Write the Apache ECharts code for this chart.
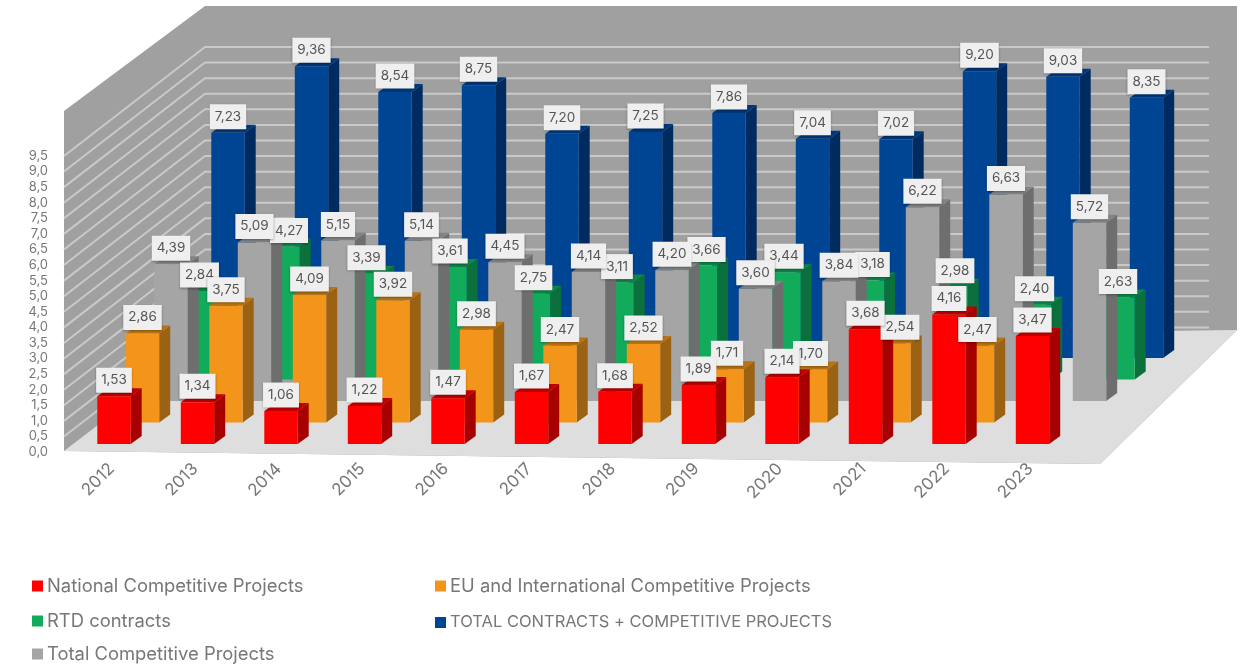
<!DOCTYPE html>
<html>
<head>
<meta charset="utf-8">
<style>html,body{margin:0;padding:0;background:#fff}#chart{width:1243px;height:666px}</style>
<script src="https://cdn.jsdelivr.net/npm/echarts@6/dist/echarts.min.js"></script>
</head>
<body>
<div id="chart"></div>
<script>
// Research funding per year, drawn as a pseudo-3D column chart.
const years = ['2012','2013','2014','2015','2016','2017','2018','2019','2020','2021','2022','2023'];
const nationalProjects = [1.53,1.34,1.06,1.22,1.47,1.67,1.68,1.89,2.14,3.68,4.16,3.47];
const euProjects = [2.86,3.75,4.09,3.92,2.98,2.47,2.52,1.71,1.70,2.54,2.47,null];
const totalCompetitive = [4.39,5.09,5.15,5.14,4.45,4.14,4.20,3.60,3.84,6.22,6.63,5.72];
const rtdContracts = [2.84,4.27,3.39,3.61,2.75,3.11,3.66,3.44,3.18,2.98,2.40,2.63];
const totalAll = [7.23,9.36,8.54,8.75,7.20,7.25,7.86,7.04,7.02,9.20,9.03,8.35];
const yTicks = [0,0.5,1,1.5,2,2.5,3,3.5,4,4.5,5,5.5,6,6.5,7,7.5,8,8.5,9,9.5];

// Rows from the front of the room to the back wall.
const rows = [
  {name:'National Competitive Projects', data:nationalProjects, front:'#fe0000', side:'#a60000', top:'#c00000'},
  {name:'EU and International Competitive Projects', data:euProjects, front:'#f3941b', side:'#9a6212', top:'#b87414'},
  {name:'Total Competitive Projects', data:totalCompetitive, front:'#a5a5a5', side:'#6e6e6e', top:'#838383'},
  {name:'RTD contracts', data:rtdContracts, front:'#12ab5b', side:'#0b703c', top:'#0d8648'},
  {name:'TOTAL CONTRACTS + COMPETITIVE PROJECTS', data:totalAll, front:'#004494', side:'#002b60', top:'#00377a'}
];

const STEP_X = 28.5, STEP_Y = 21.5;      // shift between neighbouring rows
const SIDE_X = 11, SIDE_Y = 8;           // depth of a single column
const PLOT_H = 296, BAND = 83.5;
const WALL = '#a0a0a0', FLOOR = '#dedede', RULE = '#c9c9c9';

// Sideways pushes that keep crowded value labels from covering each other ("row:year").
const labelPush = {'3:1':6, '3:6':6, '3:8':5, '3:9':4, '1:9':6};

const grids = [], xAxes = [], yAxes = [], series = [];

// Grid 0 carries the visible axes and the room itself.
grids.push({left:70, top:156, width:BAND*12, height:PLOT_H});
xAxes.push({type:'category', gridIndex:0, data:years, z:5,
  axisLine:{show:false}, axisTick:{show:false}, splitLine:{show:false},
  axisLabel:{rotate:45, margin:14, color:'#777', fontSize:17, fontFamily:'Inter', interval:0}});
yAxes.push({type:'value', gridIndex:0, min:0, max:9.5, interval:0.5,
  axisLine:{show:false}, axisTick:{show:false}, splitLine:{show:false},
  axisLabel:{margin:22, color:'#777', fontSize:13, fontFamily:'Inter',
    formatter:v => v.toFixed(1).replace('.', ',')}});

rows.forEach((r, i) => {
  grids.push({left:72.25 + STEP_X*i, top:444 - STEP_Y*i - PLOT_H, width:BAND*12, height:PLOT_H});
  xAxes.push({type:'category', gridIndex:i+1, data:years, show:false});
  yAxes.push({type:'value', gridIndex:i+1, min:0, max:9.5, interval:0.5, show:false});
});

// Walls, floor and slanted rules.
series.push({
  type:'custom', name:'room', xAxisIndex:0, yAxisIndex:0, silent:true, clip:false,
  data:[0].concat(yTicks.map((t, i) => i + 1)),
  encode:{x:[], y:[]},
  renderItem(params, api) {
    const i = api.value(0);
    const poly = (points, fill, z2) => ({type:'polygon', shape:{points}, style:{fill}, z2});
    if (i === 0) {
      return {type:'group', children:[
        poly([[64,111],[205,6],[1237,6],[1237,330],[1100,464],[64,451]], WALL, -30),
        poly([[64,451],[205,343],[1237,330],[1100,464]], FLOOR, -29),
        poly([[170,343],[1006,343],[1006,400],[170,400]], WALL, -28),
        poly([[1006,343],[1160,343],[1160,357],[1006,357]], WALL, -28)
      ]};
    }
    const y = api.coord([0, yTicks[i-1]])[1];
    if (yTicks[i-1] === 0) return null;
    const dx = 141, dy = 109;
    return {type:'polyline', z2:-27,
      shape:{points:[[64,y],[64+dx,y-dy],[1209,y-dy]]},
      style:{fill:null, stroke:RULE, lineWidth:2}};
  }
});

// Column rows: each one has its own shifted grid, so depth comes from the axes.
rows.forEach((r, d) => {
  series.push({
    type:'custom', name:r.name, xAxisIndex:d+1, yAxisIndex:d+1, clip:false,
    itemStyle:{color:r.front},
    encode:{x:0, y:1},
    data:r.data.map((v, k) => [k, v]),
    renderItem(params, api) {
      const v = api.value(1);
      if (isNaN(v)) return null;
      const base = api.coord([api.value(0), 0]);
      const head = api.coord([api.value(0), v]);
      const w = api.size([1, 0])[0] * 0.4;
      const l = base[0] - w/2, rr = base[0] + w/2, b = base[1], t = head[1];
      const z = 10 - d;
      const push = labelPush[d + ':' + api.value(0)] || 0;
      return {type:'group', children:[
        {type:'polygon', z2:z, shape:{points:[[rr,t],[rr+SIDE_X,t-SIDE_Y],[rr+SIDE_X,b-SIDE_Y],[rr,b]]}, style:{fill:r.side}},
        {type:'polygon', z2:z, shape:{points:[[l,t],[rr,t],[rr+SIDE_X,t-SIDE_Y],[l+SIDE_X,t-SIDE_Y]]}, style:{fill:r.top}},
        {type:'rect', z2:z, shape:{x:l, y:t, width:w, height:b-t}, style:{fill:r.front}},
        {type:'text', z2:30 - d, x:base[0]+push, y:t-16,
          style:{text:v.toFixed(2).replace('.', ','), fill:'#555', font:'13.5px Inter',
            align:'center', verticalAlign:'middle',
            backgroundColor:'#efefef', padding:[6,5,5,5],
            shadowColor:'rgba(0,0,0,0.3)', shadowBlur:2, shadowOffsetY:1}}
      ]};
    }
  });
});

// One legend block per entry, laid out in two irregular columns.
const legendBlock = (name, left, top, fontSize) => ({
  data:[name], left, top, orient:'horizontal', icon:'rect', itemWidth:11, itemHeight:11, itemGap:0,
  padding:0, selectedMode:false,
  textStyle:{color:'#777', fontSize, fontFamily:'Inter', padding:[0,0,10,-1]}
});

const chart = echarts.init(document.getElementById('chart'));
chart.setOption({
  animation:false,
  backgroundColor:'#fff',
  grid:grids, xAxis:xAxes, yAxis:yAxes, series,
  legend:[
    legendBlock(rows[0].name, 32, 577, 18.4),
    legendBlock(rows[3].name, 32, 612, 18.4),
    legendBlock(rows[2].name, 32, 645, 18.4),
    legendBlock(rows[1].name, 435, 577, 18.4),
    legendBlock(rows[4].name, 435, 614, 16.5)
  ]
});
</script>
</body>
</html>
